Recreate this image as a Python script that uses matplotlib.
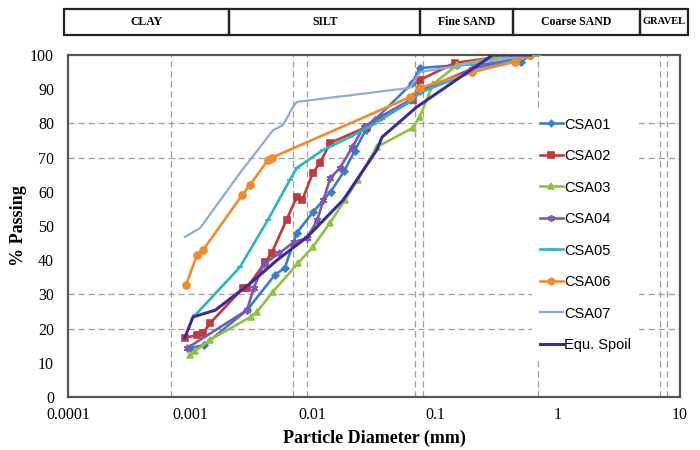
import matplotlib
matplotlib.use("Agg")
import matplotlib.pyplot as plt
from matplotlib.patches import Rectangle

# grain size data (mm, % passing)
csa01_d = [0.00099, 0.0013, 0.0029, 0.0049, 0.0059, 0.0074, 0.0100, 0.0140, 0.0180, 0.0220, 0.0270, 0.0320, 0.0650, 0.0750, 0.150, 0.50, 0.60]
csa01_p = [14.3, 15.2, 25.4, 35.7, 37.7, 48.0, 54.0, 60.0, 66.0, 72.0, 78.0, 81.0, 91.8, 96.2, 97.0, 98.0, 100.0]

csa02_d = [0.0009, 0.00113, 0.00127, 0.00145, 0.0027, 0.0029, 0.0041, 0.0046, 0.0061, 0.0074, 0.0082, 0.0100, 0.0114, 0.0139, 0.0277, 0.0657, 0.0752, 0.145, 0.43, 0.60]
csa02_p = [17.3, 18.1, 18.7, 21.6, 31.9, 32.0, 39.5, 42.0, 51.8, 58.5, 57.6, 65.5, 68.4, 74.3, 79.0, 86.8, 92.7, 97.7, 100.0, 100.0]

csa03_d = [0.00099, 0.0011, 0.00144, 0.0031, 0.0035, 0.0047, 0.0076, 0.0100, 0.0138, 0.0183, 0.0233, 0.0333, 0.0657, 0.075, 0.096, 0.15, 0.30, 0.45, 0.60]
csa03_p = [12.3, 13.5, 16.7, 23.4, 24.9, 30.7, 39.2, 43.9, 50.9, 57.6, 63.5, 73.1, 78.7, 82.0, 91.5, 97.0, 99.2, 100.0, 100.0]

csa04_d = [0.00094, 0.0029, 0.0033, 0.0040, 0.0053, 0.0070, 0.0090, 0.0109, 0.0122, 0.0139, 0.0167, 0.021, 0.026, 0.036, 0.0622, 0.0752, 0.20, 0.60]
csa04_p = [14.3, 25.4, 32.0, 39.0, 42.0, 45.3, 46.5, 51.8, 57.6, 64.0, 67.0, 73.0, 79.0, 82.0, 86.8, 89.5, 96.0, 100.0]

csa05_d = [0.0011, 0.00254, 0.0043, 0.0065, 0.0074, 0.0121, 0.0201, 0.029, 0.065, 0.075, 0.20, 0.50, 0.70]
csa05_p = [24.0, 38.0, 51.8, 63.5, 67.0, 72.2, 76.0, 79.0, 86.8, 89.0, 95.0, 99.0, 100.0]

csa06_d = [0.00092, 0.00113, 0.00127, 0.00264, 0.00307, 0.0043, 0.00464, 0.0622, 0.0752, 0.20, 0.45, 0.60]
csa06_p = [32.7, 41.5, 43.0, 59.0, 62.0, 69.3, 70.0, 87.7, 90.4, 95.0, 98.0, 100.0]

csa07_d = [0.0009, 0.0012, 0.00254, 0.00473, 0.00571, 0.00689, 0.00743, 0.0622, 0.0752, 0.20, 0.60]
csa07_p = [46.8, 49.4, 65.5, 78.0, 79.5, 84.8, 86.3, 90.4, 95.0, 97.5, 100.0]

equ_d = [0.0009, 0.00105, 0.0016, 0.0031, 0.0051, 0.0090, 0.0177, 0.0201, 0.0333, 0.0368, 0.0707, 0.295, 0.60]
equ_p = [17.3, 23.4, 25.4, 33.3, 40.0, 46.8, 57.6, 60.5, 72.2, 76.0, 84.8, 100.0, 100.0]

x_ticks = [0.0001, 0.001, 0.01, 0.1, 1, 10]
x_tick_labels = ["0.0001", "0.001", "0.01", "0.1", "1", "10"]
y_ticks = list(range(0, 101, 10))
h_grid = [20, 30, 70, 80]
v_grid = [0.0007, 0.0069, 0.009, 0.068, 0.079, 0.69, 6.9, 7.8]

zones = ["CLAY", "SILT", "Fine SAND", "Coarse SAND", "GRAVEL"]
zone_edges = [0.0, 0.265, 0.571, 0.72, 0.923, 1.0]  # fractions of the header strip

series = [
    ("CSA01", csa01_d, csa01_p, "#3a7fc6", "D", 3.5),
    ("CSA02", csa02_d, csa02_p, "#c0393d", "s", 5),
    ("CSA03", csa03_d, csa03_p, "#8cc43f", "^", 4.5),
    ("CSA04", csa04_d, csa04_p, "#7d58b0", (6, 2, 0), 5.5),
    ("CSA05", csa05_d, csa05_p, "#2bb3c8", "_", 5),
    ("CSA06", csa06_d, csa06_p, "#f38a2e", "o", 5),
    ("CSA07", csa07_d, csa07_p, "#8eaadc", None, 0),
    ("Equ. Spoil", equ_d, equ_p, "#3b2c9e", None, 0),
]

fig = plt.figure(figsize=(7, 4.5), dpi=100)
ax = fig.add_axes([68 / 700, 1 - 397 / 450, 612 / 700, 342 / 450])

grid_col = "#a89a96"
for yv in h_grid:
    ax.axhline(yv, color=grid_col, lw=0.9, ls=(0, (5, 3)), zorder=1)
for xv in v_grid:
    ax.axvline(xv, color=grid_col, lw=0.9, ls=(0, (5, 3)), zorder=1)

for name, d, p, col, mk, ms in series:
    lw = 2.2 if name == "Equ. Spoil" else (1.6 if name == "CSA07" else 1.9)
    ax.plot(d, p, color=col, lw=lw, marker=mk, ms=ms, mew=1.2,
            label=name, zorder=3)

ax.set_xscale("log")
ax.set_xlim(1e-4, 10)
ax.set_ylim(0, 100)
ax.set_xticks(x_ticks)
ax.set_xticklabels(x_tick_labels)
ax.set_yticks(y_ticks)
ax.minorticks_off()
ax.tick_params(length=0, labelsize=11.5, pad=7)
ax.tick_params(axis="y", pad=10)
for lab in ax.get_xticklabels() + ax.get_yticklabels():
    lab.set_family("Liberation Serif")
for sp in ax.spines.values():
    sp.set_color("#555555")
    sp.set_linewidth(1.6)

ax.set_xlabel("Particle Diameter (mm)", family="Liberation Serif",
              fontweight="bold", fontsize=13, labelpad=5)
ax.set_ylabel("% Passing", family="Liberation Serif",
              fontweight="bold", fontsize=13, labelpad=2)

leg = ax.legend(loc="upper left", bbox_to_anchor=(525 / 700, 1 - 103 / 450),
                bbox_transform=fig.transFigure, frameon=True,
                prop={"family": "Liberation Sans", "size": 10.5},
                labelspacing=1.2, handlelength=1.6, handletextpad=0.1,
                borderpad=0.5, markerscale=0.9)
leg.get_frame().set_facecolor("white")
leg.get_frame().set_edgecolor("none")
leg.get_frame().set_alpha(1)

# soil class header strip
hx = fig.add_axes([64 / 700, 1 - 35 / 450, 624 / 700, 26 / 450])
hx.set_xlim(0, 1)
hx.set_ylim(0, 1)
hx.axis("off")
for i, z in enumerate(zones):
    x0, x1 = zone_edges[i], zone_edges[i + 1]
    hx.add_patch(Rectangle((x0, 0), x1 - x0, 1, fill=False,
                           ec="#222222", lw=1.6, clip_on=False))
    hx.text((x0 + x1) / 2, 0.5, z, ha="center", va="center",
            family="Liberation Serif", fontweight="bold",
            fontsize=7.5 if z == "GRAVEL" else 8.5)

fig.savefig("out.png", dpi=100)
